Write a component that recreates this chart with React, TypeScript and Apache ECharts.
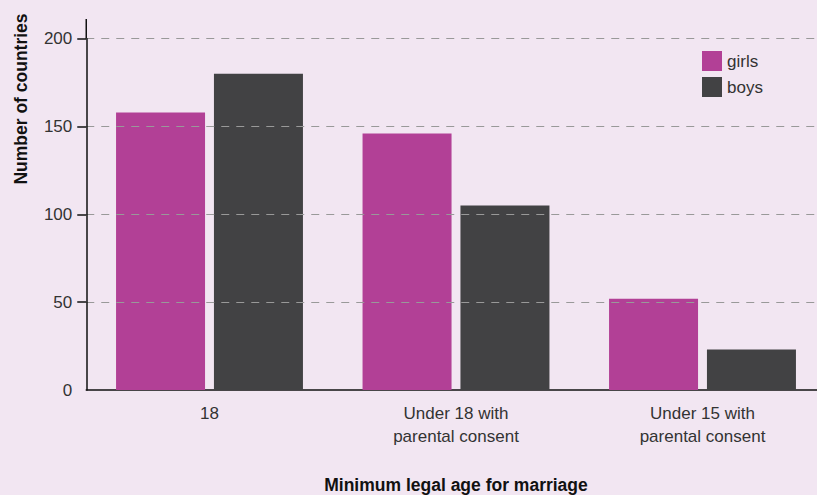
import React, { useEffect, useRef } from "react";
import * as echarts from "echarts";

const categories = ["18", "Under 18 with\nparental consent", "Under 15 with\nparental consent"];
const girls = [158, 146, 52];
const boys = [180, 105, 23];
const yMax = 200;
const yInterval = 50;
const yTickValues = [50, 100, 150, 200];

export default function App() {
  const ref = useRef<HTMLDivElement>(null);
  useEffect(() => {
    document.body.style.margin = "0";
    const chart = echarts.init(ref.current!, null, { renderer: "svg" });
    const font = "'Liberation Sans', Arial, sans-serif";
    chart.setOption({
      animation: false,
      backgroundColor: "#f2e6f2",
      textStyle: { fontFamily: font },
      graphic: [
        {
          type: "line",
          shape: { x1: 86.25, y1: 19, x2: 86.25, y2: 39 },
          style: { stroke: "#111", lineWidth: 1.5 },
        },
        {
          type: "text",
          x: 20.5,
          y: 99,
          rotation: Math.PI / 2,
          style: {
            text: "Number of countries",
            fontSize: 17.5,
            fontWeight: "bold",
            fill: "#111",
            fontFamily: font,
            align: "center",
            verticalAlign: "middle",
          },
        },
        {
          type: "text",
          x: 456,
          y: 485,
          style: {
            text: "Minimum legal age for marriage",
            fontSize: 17.5,
            fontWeight: "bold",
            fill: "#111",
            fontFamily: font,
            align: "center",
            verticalAlign: "middle",
          },
        },
      ],
      legend: {
        orient: "vertical",
        left: 697,
        top: 46,
        itemWidth: 20,
        itemHeight: 20,
        itemGap: 6,
        icon: "rect",
        textStyle: { fontSize: 17, color: "#333", fontFamily: font },
        data: ["girls", "boys"],
      },
      grid: {
        left: 86.25,
        width: 739.5,
        top: 38.7,
        height: 351.3,
        containLabel: false,
        outerBoundsMode: "none",
      },
      xAxis: {
        type: "category",
        data: categories,
        axisLine: { lineStyle: { color: "#111", width: 1.5 } },
        axisTick: { show: false },
        axisLabel: { fontSize: 17, color: "#333", lineHeight: 23, margin: 12, fontFamily: font },
      },
      yAxis: {
        type: "value",
        min: 0,
        max: yMax,
        interval: yInterval,
        z: 3,
        axisLine: { show: true, lineStyle: { color: "#111", width: 1.5 } },
        axisTick: {
          show: true,
          inside: false,
          length: 9,
          customValues: yTickValues,
          lineStyle: { color: "#111", width: 1.5 },
        },
        axisLabel: { fontSize: 17, color: "#333", margin: 14, fontFamily: font },
        splitLine: {
          show: true,
          lineStyle: { color: "#999", type: [8, 7], width: 1 },
        },
      },
      series: [
        {
          name: "girls",
          type: "bar",
          data: girls,
          barWidth: 89,
          barGap: "10%",
          itemStyle: { color: "#b24096" },
        },
        {
          name: "boys",
          type: "bar",
          data: boys,
          barWidth: 89,
          barGap: "10%",
          itemStyle: { color: "#424244" },
        },
      ],
    });
    return () => chart.dispose();
  }, []);
  return <div ref={ref} style={{ position: "absolute", left: 0, top: 0, width: 817, height: 495 }} />;
}
